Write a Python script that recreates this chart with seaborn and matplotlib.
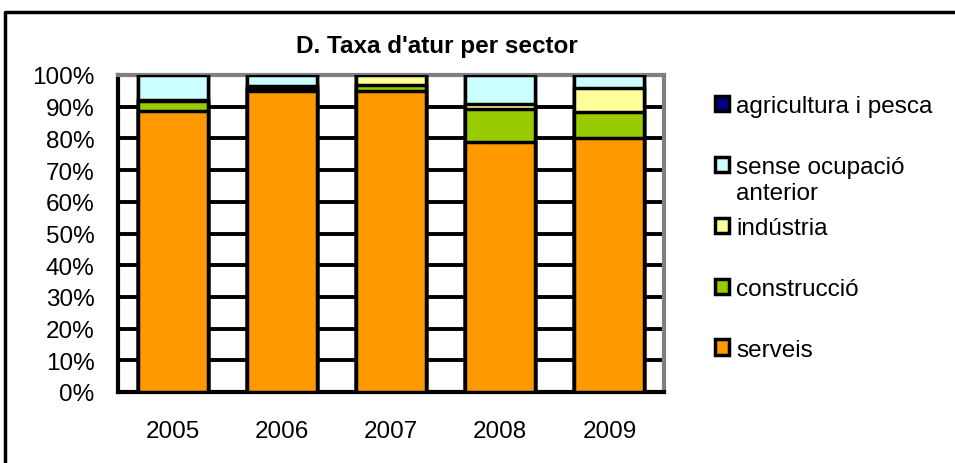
import numpy as np
import pandas as pd
import matplotlib
matplotlib.use("Agg")
import matplotlib.pyplot as plt
from matplotlib.patches import Patch
from matplotlib.lines import Line2D
import seaborn as sns

# ---- data (percent of unemployed by sector) ----
years = ["2005", "2006", "2007", "2008", "2009"]
serveis = [88.5, 95.0, 95.0, 78.8, 80.0]
construccio = [3.3, 0.8, 2.0, 10.5, 8.4]
industria = [0.4, 0.6, 3.0, 1.5, 7.4]
sense_ocupacio = [7.8, 3.6, 0.0, 9.2, 4.2]
agricultura = [0.0, 0.0, 0.0, 0.0, 0.0]

series_names = ["serveis", "construcció", "indústria", "sense ocupació anterior", "agricultura i pesca"]
series_vals = [serveis, construccio, industria, sense_ocupacio, agricultura]
colors = ["#FF9900", "#99CC00", "#FFFF99", "#CCFFFF", "#000080"]
y_ticks = [0, 10, 20, 30, 40, 50, 60, 70, 80, 90, 100]
y_labels = [f"{t}%" for t in y_ticks]
title = "D. Taxa d'atur per sector"

sns.set_theme(style="white")
plt.rcParams["font.family"] = ["Liberation Sans", "DejaVu Sans"]
plt.rcParams["text.color"] = "black"

W, H = 955, 464
FS = 17.5
fig = plt.figure(figsize=(W / 100, H / 100), dpi=100)
ax = fig.add_axes([118 / W, 1 - 393 / H, (664 - 118) / W, (393 - 76) / H])

# cumulative stacks, drawn from top layer down
cum = np.cumsum(np.array(series_vals), axis=0)
for i in range(len(series_names) - 1, -1, -1):
    df = pd.DataFrame({"year": years, "val": cum[i]})
    sns.barplot(data=df, x="year", y="val", color=colors[i], width=0.64,
                edgecolor="black", linewidth=2.5, ax=ax, zorder=3,
                saturation=1)

ax.set_ylim(0, 100)
ax.set_xlim(-0.5, 4.5)
ax.set_yticks(y_ticks)
ax.set_yticklabels(y_labels)
ax.set_xlabel("")
ax.set_ylabel("")
ax.yaxis.grid(True, color="black", linewidth=2.8, zorder=0)
ax.set_axisbelow(True)
ax.tick_params(axis="both", length=0, labelsize=FS, colors="black")
ax.tick_params(axis="y", pad=17)
ax.tick_params(axis="x", pad=20)
for s in ["left", "bottom"]:
    ax.spines[s].set_color("black")
    ax.spines[s].set_linewidth(3)
for s in ["top", "right"]:
    ax.spines[s].set_color("#808080")
    ax.spines[s].set_linewidth(3)

fig.text(437 / W, 1 - 47 / H, title, ha="center", va="center",
         fontsize=17.5, fontweight="bold", color="black")

# outer chart frame (top and left edges only visible)
fig.add_artist(Line2D([5 / W, 5 / W, 1.2], [-0.2, 1 - 13 / H, 1 - 13 / H],
                      transform=fig.transFigure, color="black", linewidth=2.5))

# legend (top to bottom: agricultura ... serveis)
leg_labels = ["agricultura i pesca", "sense ocupació", "indústria", "construcció", "serveis"]
handles = [Patch(facecolor=colors[i], edgecolor="black", linewidth=2.5)
           for i in range(len(series_names) - 1, -1, -1)]
leg = fig.legend(handles, leg_labels, loc="upper left",
                 bbox_to_anchor=(715 / W, 1 - 96 / H), frameon=False,
                 fontsize=FS, handlelength=0.58, handleheight=0.58,
                 handletextpad=0.3, labelspacing=1.6, borderpad=0,
                 borderaxespad=0)
for t in leg.get_texts():
    t.set_color("black")
fig.canvas.draw()
t = leg.get_texts()[1]
bb = t.get_window_extent()
fig.text(bb.x0 / W, (bb.y0 - 26) / H, "anterior", fontsize=FS,
         ha="left", va="bottom", color="black")

fig.savefig("out.png", dpi=100)
